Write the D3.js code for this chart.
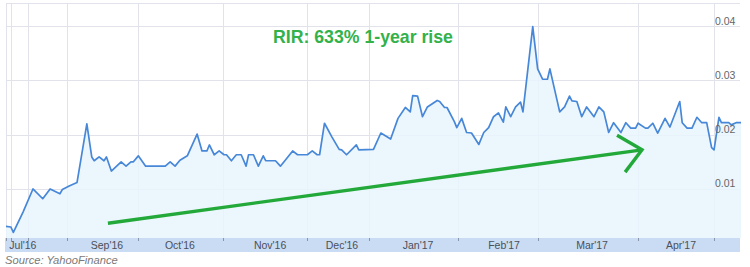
<!DOCTYPE html>
<html>
<head>
<meta charset="utf-8">
<script src="https://cdn.jsdelivr.net/npm/d3@7"></script>
<style>
  body { margin: 0; background: #fff; }
  svg { display: block; font-family: "Liberation Sans", Arial, sans-serif; }
</style>
</head>
<body>
<div id="chart"></div>
<script>
// RIR share price (days since start of window, price in $)
const days = [
  0, 2, 3, 7, 11, 15, 18, 22, 23, 26,
  29, 33, 35, 36, 38, 40, 41, 43, 47, 49,
  51, 52, 54, 57, 65, 67, 69, 71, 74, 78,
  80, 82, 83, 85, 87, 89, 90, 92, 94, 96,
  98, 99, 101, 103, 105, 106, 110, 112, 117, 119,
  123, 125, 127, 128, 130, 133, 136, 137, 139, 143,
  144, 150, 153, 157, 160, 163, 165, 166, 168, 170,
  172, 176, 177, 179, 180, 183, 184, 186, 188, 190,
  193, 195, 197, 199, 201, 203, 204, 206, 208, 210,
  211, 215, 217, 219, 221, 222, 226, 228, 230, 231,
  233, 235, 237, 240, 242, 244, 246, 248, 251, 253,
  255, 257, 258, 261, 262, 264, 266, 269, 271, 275,
  276, 278, 280, 282, 284, 286, 287, 288, 289, 291,
  292, 295, 296, 298, 300
];
const prices = [
  .0031, .0030, .0020, .0058, .0100, .0082, .0100, .0091, .0099, .0106,
  .0112, .0220, .0159, .0152, .0159, .0152, .0159, .0133, .0150, .0142,
  .0150, .0150, .0161, .0142, .0142, .0150, .0142, .0153, .0161, .0201,
  .0170, .0170, .0181, .0163, .0170, .0163, .0163, .0152, .0163, .0163,
  .0142, .0163, .0163, .0142, .0161, .0152, .0152, .0142, .0170, .0163,
  .0163, .0170, .0163, .0163, .0221, .0196, .0173, .0172, .0163, .0181,
  .0172, .0173, .0203, .0192, .0230, .0250, .0242, .0272, .0271, .0233,
  .0251, .0263, .0261, .0250, .0250, .0224, .0213, .0230, .0204, .0203,
  .0182, .0204, .0213, .0233, .0240, .0223, .0251, .0233, .0251, .0260,
  .0242, .0399, .0321, .0302, .0302, .0321, .0242, .0251, .0271, .0262,
  .0261, .0233, .0251, .0233, .0251, .0242, .0204, .0222, .0204, .0222,
  .0212, .0212, .0221, .0212, .0212, .0221, .0203, .0230, .0214, .0261,
  .0222, .0212, .0212, .0232, .0222, .0222, .0199, .0176, .0172, .0232,
  .0222, .0222, .0218, .0222, .0222
];

// x axis: gridline days and month label days (Yahoo spaces them unevenly)
const gridDays = [0, 2, 9, 25, 54, 88.6, 123, 148, 184.5, 217, 258, 289];
const monthLabels = ["Jul'16", "Sep'16", "Oct'16", "Nov'16", "Dec'16", "Jan'17", "Feb'17", "Mar'17", "Apr'17"];
const monthLabelDays = [6.9, 41.2, 71, 107.8, 137.1, 168.2, 203.3, 239.2, 275.5];

// y axis ticks
const yTicks = [0.01, 0.02, 0.03, 0.04];

// green trend arrow annotation, in data units [day, price]
const arrowShaft = [[41.6, 0.0037], [259.6, 0.0172]];
const arrowHead = [[249.4, 0.0199], [259.6, 0.0172], [252.7, 0.0131]];

const title = "RIR: 633% 1-year rise";
const source = "Source: YahooFinance";

const width = 750, height = 267;
const plot = { left: 6, right: 740, top: 3, bottom: 238 };
const bandH = 14;

const data = d3.zip(days, prices).map(([d, v]) => ({ day: d, value: v }));

const x = d3.scaleLinear().domain([0, 300]).range([6, 741]);
const y = d3.scaleLinear().domain([0, 0.04]).range([243.3, 26]);

const svg = d3.select("#chart").append("svg")
  .attr("width", width)
  .attr("height", height);

// horizontal grid
svg.append("g")
  .selectAll("line")
  .data(yTicks)
  .join("line")
    .attr("x1", plot.left)
    .attr("x2", plot.right)
    .attr("y1", d => Math.round(y(d)) + 0.5)
    .attr("y2", d => Math.round(y(d)) + 0.5)
    .attr("stroke", "#e1e2ea");

svg.append("line")
  .attr("x1", plot.left).attr("x2", plot.right)
  .attr("y1", plot.top + 0.5).attr("y2", plot.top + 0.5)
  .attr("stroke", "#e1e2ea");

// vertical grid
svg.append("g")
  .selectAll("line")
  .data(gridDays)
  .join("line")
    .attr("x1", d => Math.round(x(d)) + 0.5)
    .attr("x2", d => Math.round(x(d)) + 0.5)
    .attr("y1", plot.top)
    .attr("y2", plot.bottom)
    .attr("stroke", "#e1e2ea");

// area + line
const area = d3.area()
  .x(d => x(d.day))
  .y0(plot.bottom)
  .y1(d => y(d.value));

const line = d3.line()
  .x(d => x(d.day))
  .y(d => y(d.value));

svg.append("path")
  .datum(data)
  .attr("d", area)
  .attr("fill", "#e9f4fd")
  .attr("fill-opacity", 0.85);

svg.append("path")
  .datum(data)
  .attr("d", line)
  .attr("fill", "none")
  .attr("stroke", "#4787d8")
  .attr("stroke-width", 1.7)
  .attr("stroke-linejoin", "round");

// x axis band
svg.append("rect")
  .attr("x", 5)
  .attr("y", plot.bottom)
  .attr("width", plot.right - 5)
  .attr("height", bandH)
  .attr("fill", "#cadcf3");

svg.append("g")
  .selectAll("line")
  .data(gridDays)
  .join("line")
    .attr("x1", d => Math.round(x(d)) + 0.5)
    .attr("x2", d => Math.round(x(d)) + 0.5)
    .attr("y1", plot.bottom)
    .attr("y2", plot.bottom + 3)
    .attr("stroke", "#8a96a8");

svg.append("g")
  .selectAll("text")
  .data(monthLabels)
  .join("text")
    .attr("x", (d, i) => x(monthLabelDays[i]))
    .attr("y", plot.bottom + 11)
    .attr("text-anchor", "middle")
    .attr("font-size", 10.5)
    .attr("fill", "#4a4f5a")
    .text(d => d);

// y labels, right side above the gridlines
svg.append("g")
  .selectAll("text")
  .data(yTicks)
  .join("text")
    .attr("x", 715)
    .attr("y", d => y(d) - 1.5)
    .attr("font-size", 10.5)
    .attr("fill", "#666")
    .text(d => d3.format(".2f")(d));

// arrow annotation
const arrowLine = d3.line().x(d => x(d[0])).y(d => y(d[1]));
svg.append("path")
  .attr("d", arrowLine(arrowShaft))
  .attr("stroke", "#23a93a")
  .attr("stroke-width", 3.4)
  .attr("fill", "none");
svg.append("path")
  .attr("d", arrowLine(arrowHead))
  .attr("stroke", "#23a93a")
  .attr("stroke-width", 3.4)
  .attr("stroke-linejoin", "miter")
  .attr("fill", "none");

// title
svg.append("text")
  .attr("x", 273)
  .attr("y", 43)
  .attr("font-size", 17.7)
  .attr("font-weight", "bold")
  .attr("fill", "#33b14a")
  .text(title);

svg.append("text")
  .attr("x", 5)
  .attr("y", 264)
  .attr("font-size", 11.2)
  .attr("font-style", "italic")
  .attr("fill", "#7a7a7a")
  .text(source);
</script>
</body>
</html>
